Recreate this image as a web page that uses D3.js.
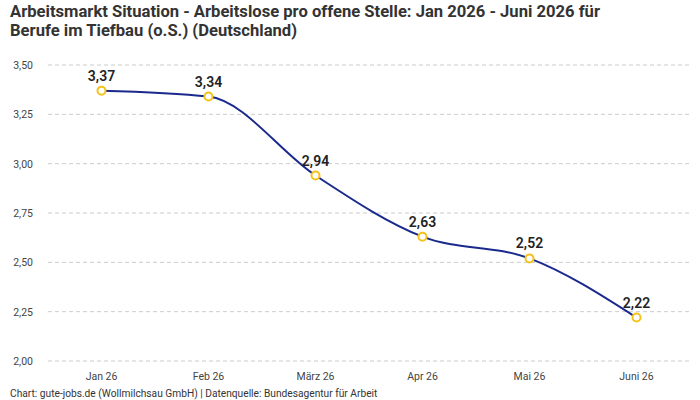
<!DOCTYPE html>
<html>
<head>
<meta charset="utf-8">
<script src="https://cdn.jsdelivr.net/npm/d3@7"></script>
<style>
  body { margin: 0; background: #fff; }
  svg { font-family: Roboto, "Noto Sans", sans-serif; }
</style>
</head>
<body>
<div id="chart"></div>
<script>
const months = ['Jan 26', 'Feb 26', 'März 26', 'Apr 26', 'Mai 26', 'Juni 26']
const values = [3.37, 3.34, 2.94, 2.63, 2.52, 2.22]
const yTicks = [2.00, 2.25, 2.50, 2.75, 3.00, 3.25, 3.50]

const width = 700, height = 400
const margin = {top: 65, right: 10, bottom: 39, left: 48}

const fmt = v => v.toFixed(2).replace('.', ',')

const svg = d3.select('#chart').append('svg')
    .attr('width', width)
    .attr('height', height)

// Title
svg.append('text')
    .attr('x', 10).attr('y', 17)
    .attr('font-size', 16.6).attr('font-weight', 'bold').attr('fill', '#333')
    .text('Arbeitsmarkt Situation - Arbeitslose pro offene Stelle: Jan 2026 - Juni 2026 für')
svg.append('text')
    .attr('x', 10).attr('y', 36)
    .attr('font-size', 16.6).attr('font-weight', 'bold').attr('fill', '#333')
    .text('Berufe im Tiefbau (o.S.) (Deutschland)')

const x = d3.scaleBand()
    .domain(months)
    .range([margin.left, width - margin.right])

const y = d3.scaleLinear()
    .domain([2, 3.5])
    .range([height - margin.bottom, margin.top])

// Grid
svg.append('g').selectAll('line')
    .data(yTicks)
    .join('line')
    .attr('x1', margin.left).attr('x2', width - margin.right)
    .attr('y1', d => y(d)).attr('y2', d => y(d))
    .attr('stroke', '#ccc').attr('stroke-dasharray', '4,3')

// Y axis labels
svg.append('g').selectAll('text')
    .data(yTicks)
    .join('text')
    .attr('x', 33).attr('y', d => y(d) + 4)
    .attr('text-anchor', 'end')
    .attr('font-size', 10.5).attr('fill', '#444')
    .text(fmt)

// X axis labels
svg.append('g').selectAll('text')
    .data(months)
    .join('text')
    .attr('x', d => x(d) + x.bandwidth() / 2).attr('y', 380)
    .attr('text-anchor', 'middle')
    .attr('font-size', 10.5).attr('fill', '#444')
    .text(d => d)

const pts = months.map((m, i) => ({m, v: values[i]}))

const line = d3.line()
    .x(d => x(d.m) + x.bandwidth() / 2)
    .y(d => y(d.v))
    .curve(d3.curveMonotoneX)

svg.append('path')
    .datum(pts)
    .attr('d', line)
    .attr('fill', 'none')
    .attr('stroke', '#1a2a8c')
    .attr('stroke-width', 2)

svg.append('g').selectAll('circle')
    .data(pts)
    .join('circle')
    .attr('cx', d => x(d.m) + x.bandwidth() / 2)
    .attr('cy', d => y(d.v))
    .attr('r', 4)
    .attr('fill', '#fff')
    .attr('stroke', '#f5c21b')
    .attr('stroke-width', 2)

svg.append('g').selectAll('text')
    .data(pts)
    .join('text')
    .attr('x', d => x(d.m) + x.bandwidth() / 2)
    .attr('y', d => y(d.v) - 10)
    .attr('text-anchor', 'middle')
    .attr('font-size', 14).attr('font-weight', 600).attr('fill', '#222')
    .text(d => fmt(d.v))

// Footer
svg.append('text')
    .attr('x', 10).attr('y', 397)
    .attr('font-size', 10.2).attr('fill', '#333')
    .text('Chart: gute-jobs.de (Wollmilchsau GmbH) | Datenquelle: Bundesagentur für Arbeit')
</script>
</body>
</html>
